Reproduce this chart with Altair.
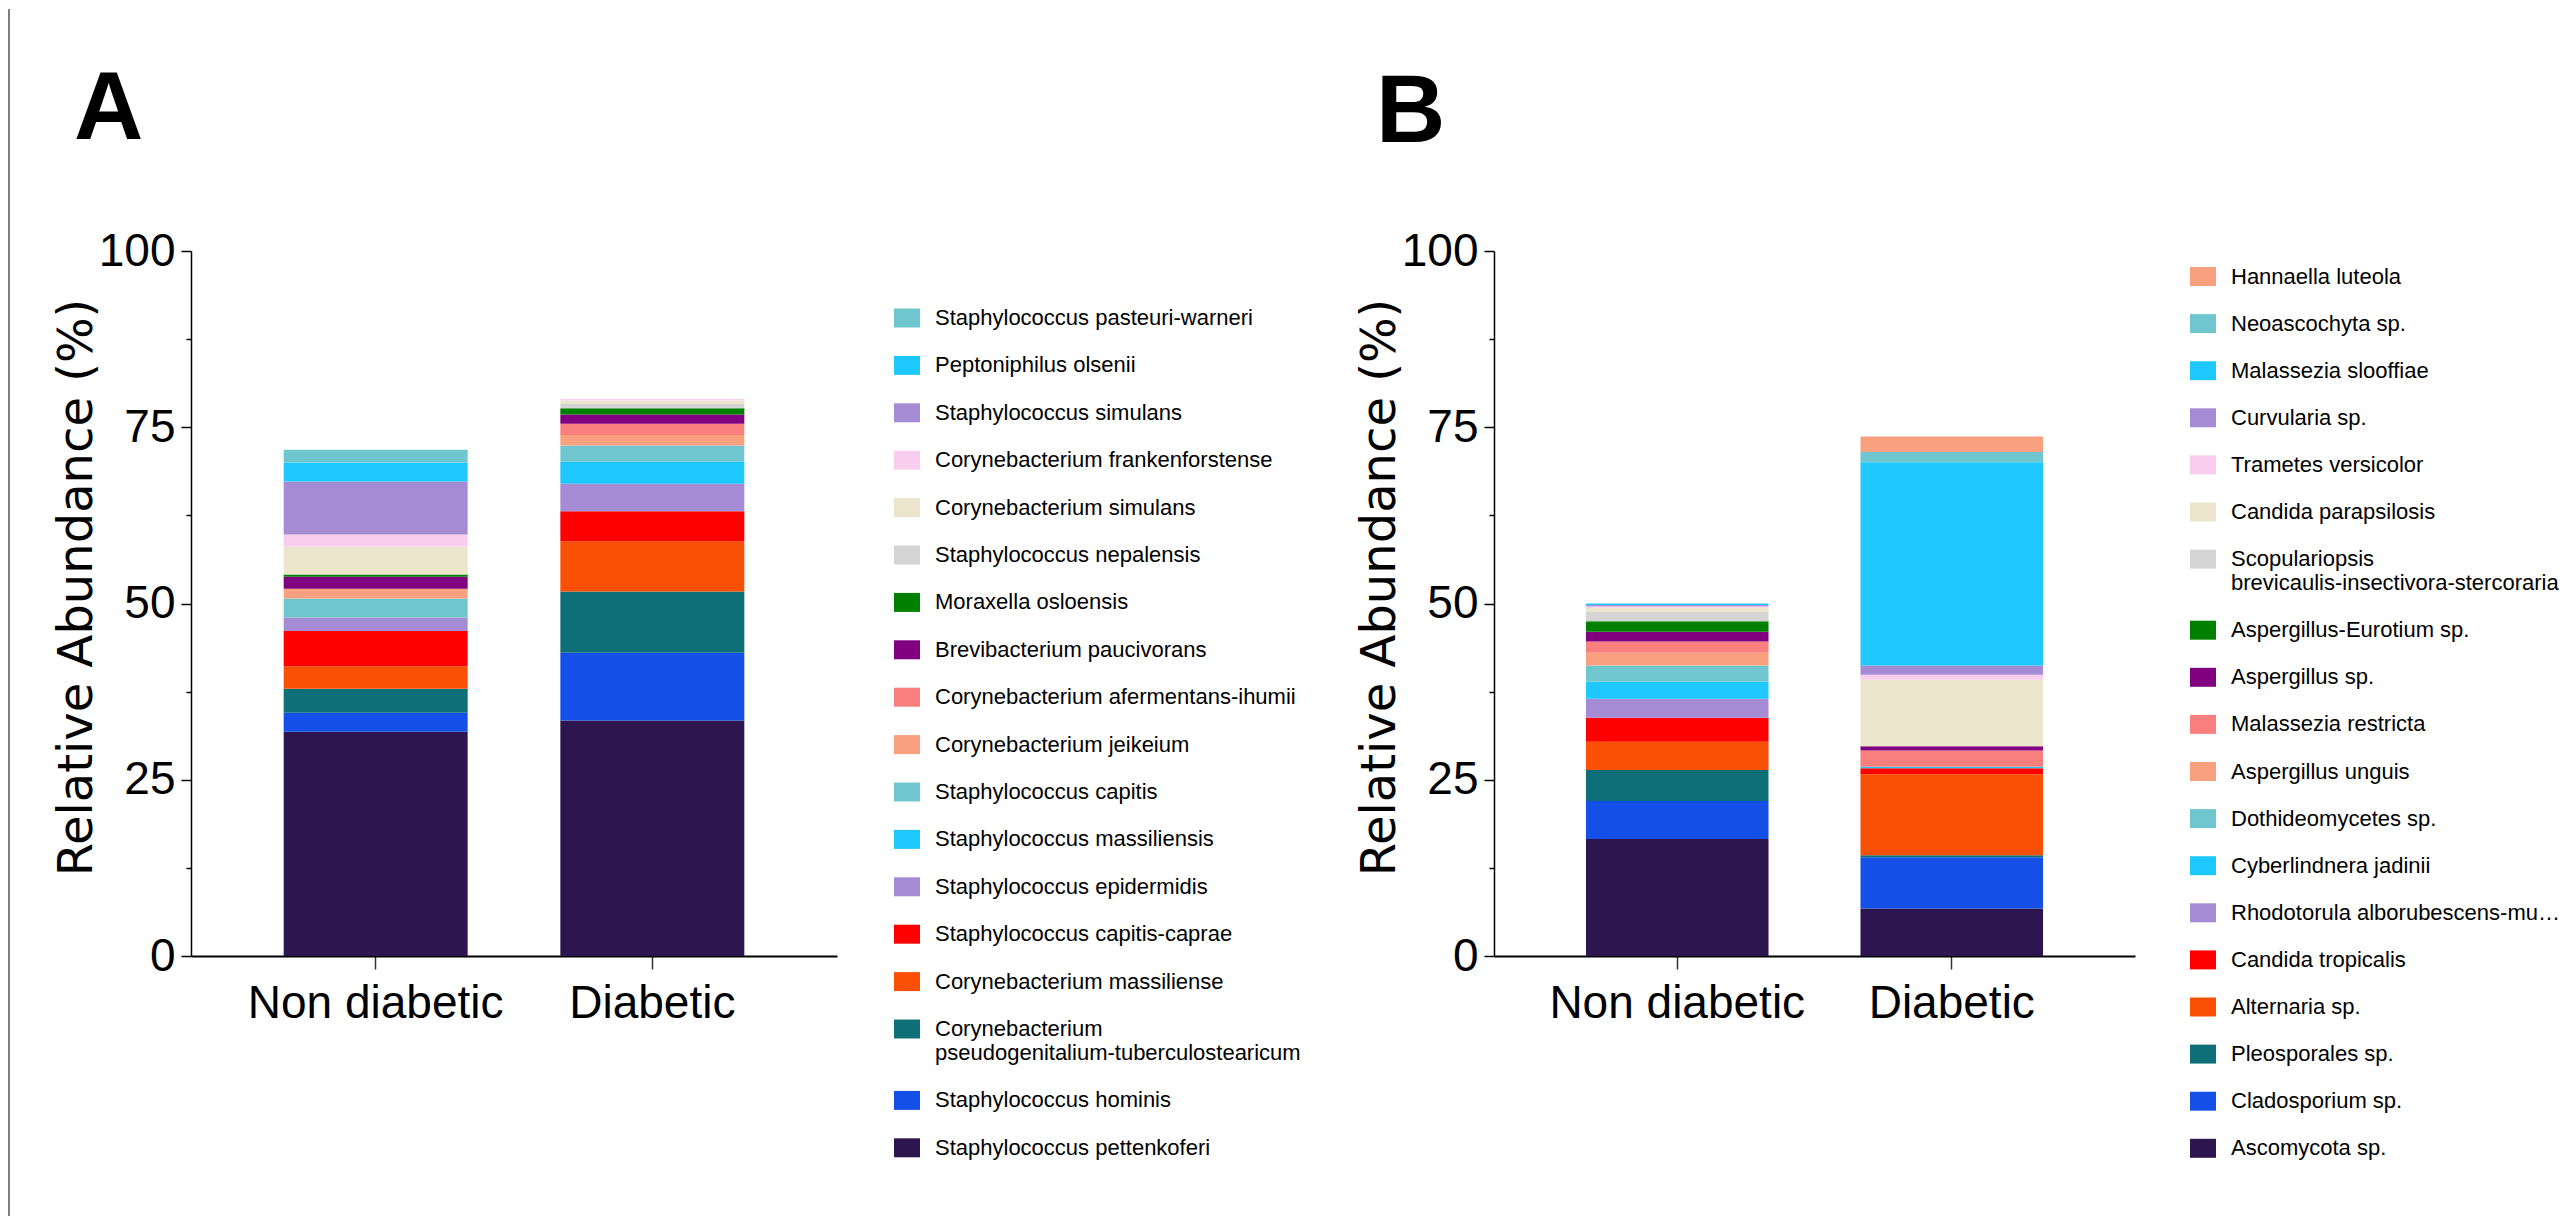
import altair as alt
import pandas as pd

GROUPS = ["Non diabetic", "Diabetic"]

# Panel A (bacteria), listed bottom -> top of the stack
SPECIES_A = [
    "Staphylococcus pettenkoferi",
    "Staphylococcus hominis",
    "Corynebacterium pseudogenitalium-tuberculostearicum",
    "Corynebacterium massiliense",
    "Staphylococcus capitis-caprae",
    "Staphylococcus epidermidis",
    "Staphylococcus massiliensis",
    "Staphylococcus capitis",
    "Corynebacterium jeikeium",
    "Corynebacterium afermentans-ihumii",
    "Brevibacterium paucivorans",
    "Moraxella osloensis",
    "Staphylococcus nepalensis",
    "Corynebacterium simulans",
    "Corynebacterium frankenforstense",
    "Staphylococcus simulans",
    "Peptoniphilus olsenii",
    "Staphylococcus pasteuri-warneri",
]
NONDIAB_A = [31.8, 2.7, 3.4, 3.2, 5.0, 1.9, 0.0, 2.7, 1.4, 0.0, 1.7, 0.3, 0.0, 4.0, 1.7, 7.5, 2.7, 1.8]
DIAB_A = [33.4, 9.6, 8.7, 7.1, 4.3, 3.9, 3.1, 2.3, 1.5, 1.6, 1.3, 0.9, 0.6, 0.5, 0.2, 0.0, 0.0, 0.0]

# Panel B (fungi), listed bottom -> top of the stack
SPECIES_B = [
    "Ascomycota sp.",
    "Cladosporium sp.",
    "Pleosporales sp.",
    "Alternaria sp.",
    "Candida tropicalis",
    "Rhodotorula alborubescens-mucilaginosa",
    "Cyberlindnera jadinii",
    "Dothideomycetes sp.",
    "Aspergillus unguis",
    "Malassezia restricta",
    "Aspergillus sp.",
    "Aspergillus-Eurotium sp.",
    "Scopulariopsis brevicaulis-insectivora-stercoraria",
    "Candida parapsilosis",
    "Trametes versicolor",
    "Curvularia sp.",
    "Malassezia slooffiae",
    "Neoascochyta sp.",
    "Hannaella luteola",
]
NONDIAB_B = [16.6, 5.4, 4.4, 4.0, 3.4, 2.7, 2.4, 2.3, 1.8, 1.6, 1.4, 1.5, 1.3, 0.6, 0.2, 0.2, 0.2, 0.0, 0.0]
DIAB_B = [6.75, 7.26, 0.29, 11.47, 0.87, 0.0, 0.2, 0.0, 0.0, 2.32, 0.58, 0.0, 0.0, 9.44, 0.73, 1.31, 28.83, 1.45, 2.18]

PALETTE = [
    "#2d1650", "#1450e8", "#0f6f78", "#fa5005", "#ff0000", "#a58bd4",
    "#1ec8fe", "#70c6ce", "#f9a17e", "#f97f7f", "#800080", "#008000",
    "#d4d4d4", "#ebe5cb", "#f8cdee", "#a58bd4", "#1ec8fe", "#70c6ce", "#f9a17e",
]
Y_TICKS = [0, 12.5, 25, 37.5, 50, 62.5, 75, 87.5, 100]

SANS = "Liberation Sans, Arial, sans-serif"


def long_df(species, nd, d):
    rows = []
    for i, s in enumerate(species):
        rows.append({"group": GROUPS[0], "species": s, "value": nd[i], "order": i})
        rows.append({"group": GROUPS[1], "species": s, "value": d[i], "order": i})
    return pd.DataFrame(rows)


def panel(letter, species, nd, d, width, height, title_dx, title_offset,
          legend_x, legend_y, row_pad, label_limit, extra=None):
    df = long_df(species, nd, d)
    dom = species[::-1]
    rng = PALETTE[: len(species)][::-1]
    bars = alt.Chart(df).mark_bar().encode(
        x=alt.X(
            "group:N",
            sort=GROUPS,
            scale=alt.Scale(paddingInner=0.335, paddingOuter=0.335),
            axis=alt.Axis(
                title=None, labelAngle=0, labelFont=SANS, labelFontSize=46,
                labelColor="black", labelPadding=12, labelLimit=0, tickSize=13, tickWidth=1.5,
                tickColor="#333333", domainColor="black", domainWidth=2,
            ),
        ),
        y=alt.Y(
            "value:Q",
            stack="zero",
            scale=alt.Scale(domain=[0, 100], nice=False),
            axis=alt.Axis(
                values=Y_TICKS,
                labelExpr="datum.value % 25 === 0 ? datum.label : ''",
                labelOverlap=False,
                tickSize={"condition": {"test": "datum.value % 25 === 0", "value": 10}, "value": 5},
                tickWidth=1.5, tickColor="black", domainColor="black", domainWidth=1.5,
                labelFont=SANS, labelFontSize=46, labelColor="black", labelPadding=6,
                title="Relative Abundance (%)", titleFont="DejaVu Sans", titleFontSize=48,
                titleFontWeight="normal", titleColor="black", titlePadding=-3, titleY=336,
                grid=False,
            ),
        ),
        color=alt.Color(
            "species:N",
            scale=alt.Scale(domain=dom, range=rng),
            legend=alt.Legend(
                title=None, orient="none", legendX=legend_x, legendY=legend_y,
                symbolType="M-1,-0.73H1V0.73H-1Z", symbolSize=676, symbolStrokeWidth=0,
                labelFont=SANS, labelFontSize=22, labelColor="black", labelOffset=15,
                rowPadding=row_pad, padding=0, labelLimit=label_limit,
                labelExpr="length(datum.label) > 45 ? split(datum.label, ' ') : datum.label",
            ),
        ),
        order=alt.Order("order:Q", sort="ascending"),
    )
    layers = [bars]
    if extra is not None:
        layers = [extra, bars]
    return alt.layer(*layers).properties(
        width=width,
        height=height,
        title=alt.TitleParams(
            letter, anchor="start", frame="group", dx=title_dx, offset=title_offset,
            baseline="alphabetic", font=SANS, fontSize=96, fontWeight="bold", color="black",
        ),
    )


frame_line = alt.Chart(alt.Data(values=[{}])).mark_rule(color="#555555", strokeWidth=1.5).encode(
    x=alt.value(-182), y=alt.value(-242), y2=alt.value(965)
)

panel_a = panel("A", SPECIES_A, NONDIAB_A, DIAB_A, 646, 705, -117, -227, 703, 54, 23.4, 0,
                extra=frame_line)
panel_b = panel("B", SPECIES_B, NONDIAB_B, DIAB_B, 641, 705, -118, -10, 696, 12.5, 23.1, 334)

chart = (
    alt.hconcat(panel_a, panel_b, spacing=657, bounds="flush")
    .resolve_scale(color="independent")
    .properties(padding={"left": 0, "top": 0, "right": 0, "bottom": 0})
    .configure_view(stroke=None)
)

chart.save("out.html", embed_options={"renderer": "svg", "actions": False})
